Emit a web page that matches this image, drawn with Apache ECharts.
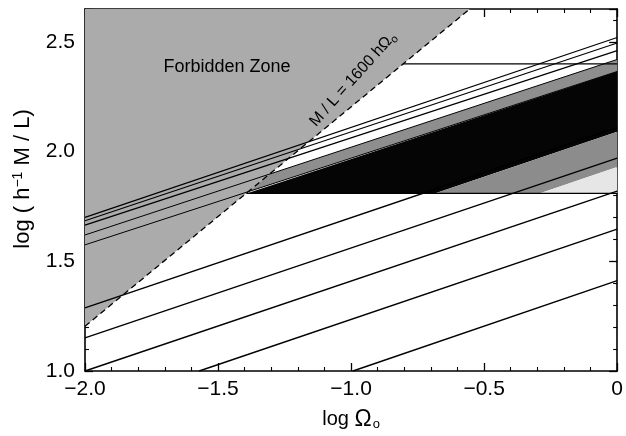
<!DOCTYPE html>
<html><head><meta charset="utf-8">
<script src="https://cdn.jsdelivr.net/npm/echarts@6/dist/echarts.min.js"></script>
<style>html,body{margin:0;padding:0;background:#fff}#c{width:626px;height:436px}</style>
</head><body><div id="c"></div>
<script>
// ---- data (x = log Ω0, y = log(h^-1 M/L)) ----
const xTickLabels = {"-2": "\u22122.0", "-1.5": "\u22121.5", "-1": "\u22121.0", "-0.5": "\u22120.5", "0": "0"};
const yTickLabels = {"1": "1.0", "1.5": "1.5", "2": "2.0", "2.5": "2.5"};
const forbiddenZone = [[-2, 1.204], [-0.554, 2.65], [-2, 2.65]];
const limitLine = [[-2, 1.204], [-0.554, 2.65]];
const upperGrayBand = [[-1.387, 1.817], [0, 2.365], [0, 2.42], [-1.307, 1.897]];
const blackBand = [[-1.39, 1.81], [0, 2.365], [0, 2.09], [-0.683, 1.81]];
const lowerGrayBand = [[-0.683, 1.81], [0, 2.09], [0, 1.93], [-0.29, 1.81]];
const paleBand = [[-0.29, 1.81], [0, 1.93], [0, 1.81]];
const upperLines = [
  [[-2, 1.70], [0, 2.52]],
  [[-2, 1.685], [0, 2.495]],
  [[-2, 1.665], [0, 2.46]]
];
const bandEdgeLines = [
  [[-2, 1.62], [0, 2.42]],
  [[-2, 1.575], [0, 2.365]]
];
const lowerLines = [
  [[-0.993, 1.0], [0, 1.412]],
  [[-1.571, 1.0], [0, 1.647]],
  [[-2, 1.0], [0, 1.82]],
  [[-2, 1.151], [0, 1.97]],
  [[-2, 1.288], [0, 2.11]]
];
const horizontalLines = [
  [[-0.806, 2.40], [0, 2.40]],
  [[-1.394, 1.81], [0, 1.81]]
];
const forbiddenLabelPos = [-1.466, 2.385];
const limitLabelPos = [-0.993, 2.33];

// ---- chart ----
const chart = echarts.init(document.getElementById('c'), null, {renderer: 'canvas'});
const FONT = 'Liberation Sans, Arial, Helvetica, sans-serif';

function polygonSeries(pts, fill, z) {
  return {
    type: 'custom', z: z, silent: true, clip: true,
    data: [pts[0]],
    renderItem: (params, api) => ({
      type: 'polygon',
      shape: {points: pts.map(p => api.coord(p))},
      style: {fill: fill}
    })
  };
}
function lineSeries(pts, width, dashed, z) {
  return {
    type: 'line', z: z, silent: true, data: pts, symbol: 'none', animation: false,
    lineStyle: {color: '#000', width: width, type: dashed ? [6, 4] : 'solid'}
  };
}
function textSeries(pos, text, size, rich, rot, z) {
  return {
    type: 'custom', z: z, silent: true, clip: false, data: [pos],
    renderItem: (params, api) => {
      const c = api.coord(pos);
      return {type: 'text', x: c[0], y: c[1], rotation: rot,
        style: {text: text, rich: rich, fill: '#000', font: size + 'px ' + FONT, align: 'center', verticalAlign: 'middle'}};
    }
  };
}

const series = [];
series.push(polygonSeries(forbiddenZone, '#ababab', 1));
series.push(polygonSeries(upperGrayBand, '#8e8e8e', 2));
series.push(polygonSeries(blackBand, '#050505', 3));
series.push(polygonSeries(lowerGrayBand, '#8c8c8c', 3));
series.push(polygonSeries(paleBand, '#e6e6e6', 3));
upperLines.forEach(l => series.push(lineSeries(l, 1.2, false, 5)));
bandEdgeLines.forEach(l => series.push(lineSeries(l, 1.0, false, 5)));
lowerLines.forEach(l => series.push(lineSeries(l, 1.4, false, 5)));
horizontalLines.forEach(l => series.push(lineSeries(l, 1.2, false, 5)));
series.push(lineSeries(limitLine, 1.3, true, 6));
series.push(textSeries(forbiddenLabelPos, 'Forbidden Zone', 18, null, 0, 7));
series.push(textSeries(limitLabelPos, '{a|M / L = 1600 h\u03a9}{s|o}', 16,
  {a: {fontSize: 16, fontFamily: FONT, fill: '#000'}, s: {fontSize: 11, fontFamily: FONT, padding: [9, 0, 0, 0]}},
  0.84, 7));

const tickCommon = {show: true, inside: true, length: 8, lineStyle: {color: '#000', width: 1.3}};
const minorCommon = {show: true, splitNumber: 5, length: 4, lineStyle: {color: '#000', width: 1.1}};
const lineCommon = {show: true, onZero: false, lineStyle: {color: '#000', width: 1.6}};

chart.setOption({
  animation: false,
  backgroundColor: '#fff',
  grid: {left: 85, right: 5, top: 9, bottom: 63, containLabel: false},
  xAxis: [{
    type: 'value', min: -2, max: 0, interval: 0.5, position: 'bottom',
    axisLine: lineCommon, axisTick: tickCommon, minorTick: minorCommon, splitLine: {show: false},
    axisLabel: {color: '#000', fontSize: 21, fontFamily: FONT, margin: 8,
      formatter: v => xTickLabels[String(+v.toFixed(2))] || ''},
    name: '{a|log }{w|\u03a9}{s|o}', nameLocation: 'middle', nameGap: 37,
    nameTextStyle: {color: '#000', rich: {a: {fontSize: 20, fontFamily: FONT}, w: {fontSize: 23, fontFamily: FONT}, s: {fontSize: 13, fontFamily: FONT, padding: [9, 0, 0, 1]}}}
  }, {
    type: 'value', min: -2, max: 0, interval: 0.5, position: 'top',
    axisLine: lineCommon, axisTick: tickCommon, minorTick: minorCommon, splitLine: {show: false},
    axisLabel: {show: false}
  }],
  yAxis: [{
    type: 'value', min: 1.0, max: 2.65, interval: 0.5, position: 'left',
    axisLine: lineCommon, axisTick: tickCommon, minorTick: minorCommon, splitLine: {show: false},
    axisLabel: {color: '#000', fontSize: 21, fontFamily: FONT, margin: 10, showMaxLabel: false,
      formatter: v => yTickLabels[String(+v.toFixed(2))] || ''},
    name: '{a|log ( h}{s|\u22121}{a| M / L)}', nameLocation: 'middle', nameGap: 50,
    nameTextStyle: {color: '#000', padding: [0, 0, 0, 22], rich: {a: {fontSize: 22, fontFamily: FONT}, s: {fontSize: 14, fontFamily: FONT, padding: [0, 0, 10, 0]}}}
  }, {
    type: 'value', min: 1.0, max: 2.65, interval: 0.5, position: 'right',
    axisLine: lineCommon, axisTick: tickCommon, minorTick: minorCommon, splitLine: {show: false},
    axisLabel: {show: false}
  }],
  series: series
});
</script>
</body></html>
